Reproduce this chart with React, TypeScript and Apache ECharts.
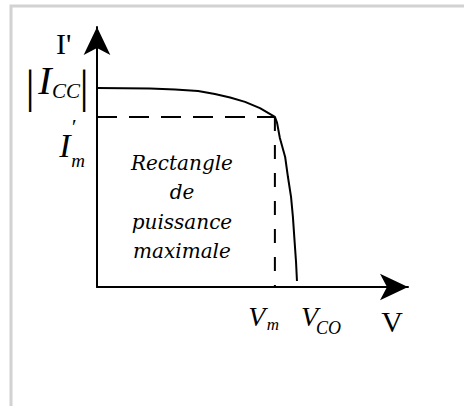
import React, { useEffect, useRef } from "react";
import * as echarts from "echarts";

const W = 464;
const H = 406;

// I–V characteristic of a photovoltaic cell (normalised units)
const voltage = [0, 1.7, 2.51, 3.25, 3.79, 4.28, 4.76, 5.24, 5.72, 5.79, 5.88, 6.05, 6.14, 6.24, 6.3, 6.35, 6.4, 6.43];
const current = [7.65, 7.63, 7.6, 7.54, 7.42, 7.29, 7.12, 6.88, 6.54, 6.31, 5.73, 5.0, 4.23, 3.46, 2.69, 1.81, 0.96, 0.23];

// characteristic points
const Icc = 7.65;
const Im = 6.54;
const Vm = 5.72;
const Vco = 6.45;
const axisMax = 10;

const MATH = "'Liberation Serif', 'Times New Roman', serif";
const NOTE = "'DejaVu Serif', serif";

export default function App() {
  const ref = useRef<HTMLDivElement>(null);

  useEffect(() => {
    const chart = echarts.init(ref.current!, null, { renderer: "svg" });
    const axisLine = {
      show: true,
      symbol: ["none", "arrow"],
      symbolSize: [20, 28],
      symbolOffset: [0, 0],
      lineStyle: { color: "#000", width: 2 },
    };
    chart.setOption({
      animation: false,
      backgroundColor: "#fff",
      grid: { left: 97, top: 27, right: 56, bottom: 119 },
      xAxis: {
        type: "value",
        min: 0,
        max: axisMax,
        axisLine,
        axisTick: { show: false },
        axisLabel: { show: false },
        splitLine: { show: false },
      },
      yAxis: {
        type: "value",
        min: 0,
        max: axisMax,
        axisLine,
        axisTick: { show: false },
        axisLabel: { show: false },
        splitLine: { show: false },
      },
      series: [
        {
          type: "line",
          data: voltage.map((v, i) => [v, current[i]]),
          showSymbol: false,
          lineStyle: { color: "#000", width: 2 },
          z: 3,
        },
        {
          type: "line",
          data: [[0, Im], [Vm, Im]],
          showSymbol: false,
          lineStyle: { color: "#000", width: 2, type: [20, 12] },
        },
        {
          type: "line",
          data: [[Vm, Im], [Vm, 0]],
          showSymbol: false,
          lineStyle: { color: "#000", width: 2, type: [14, 14] },
        },
      ],
    });

    const p = (x: number, y: number) => chart.convertToPixel({ gridIndex: 0 }, [x, y]) as number[];
    const txt = (
      at: number[],
      dx: number,
      dy: number,
      text: string,
      size: number,
      family: string,
      italic: boolean,
      align: string = "center",
      extra: Record<string, unknown> = {}
    ) => ({
      type: "text",
      x: at[0] + dx,
      y: at[1] + dy,
      z: 10,
      style: {
        text,
        fontSize: size,
        fontFamily: family,
        fontStyle: italic ? "italic" : "normal",
        fill: "#000",
        align,
        verticalAlign: "middle",
        ...extra,
      },
    });

    const top = p(0, axisMax);
    const icc = p(0, Icc);
    const im = p(0, Im);
    const vm = p(Vm, 0);
    const vco = p(Vco, 0);
    const vEnd = p(axisMax, 0);
    const mid = p(Vm / 2, Im / 2);

    chart.setOption({
      graphic: [
        {
          type: "polyline",
          shape: { points: [[11, H], [11, 6], [W, 6]] },
          style: { stroke: "#d2d2d2", lineWidth: 3, fill: "none" },
        },
        txt(top, -41, 16, "I'", 30, MATH, false, "left"),
        txt(icc, -67, -2, "|", 46, MATH, false),
        txt(icc, -13, -2, "|", 46, MATH, false),
        txt(icc, -52, -8, "I", 40, MATH, true),
        txt(icc, -45, 3, "CC", 21, MATH, true, "left"),
        txt(im, -32, 29, "I", 34, MATH, true),
        txt(im, -24, 10, "′", 22, MATH, true),
        txt(im, -19, 44, "m", 19, MATH, true),
        txt(vm, -18, 29, "V", 28, MATH, true),
        txt(vm, -2, 37, "m", 17, MATH, true),
        txt(vco, 12, 29, "V", 28, MATH, true),
        txt(vco, 31, 41, "CO", 18, MATH, true),
        txt(vEnd, -16, 34, "V", 30, MATH, false),
        txt(mid, -4, 5, "Rectangle\nde\npuissance\nmaximale", 20, NOTE, true, "center", {
          lineHeight: 29.5,
        }),
      ],
    });

    return () => chart.dispose();
  }, []);

  return (
    <div
      ref={ref}
      style={{ position: "fixed", left: 0, top: 0, width: W, height: H, background: "#fff" }}
    />
  );
}
